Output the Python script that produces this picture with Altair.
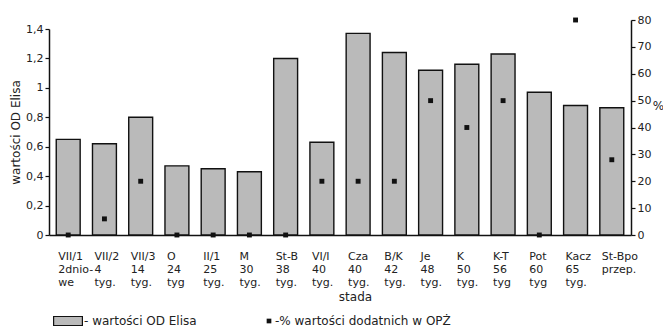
import altair as alt
import pandas as pd

# Category labels (three lines each)
line1 = ["VII/1", "VII/2", "VII/3", "O", "II/1", "M", "St-B", "VI/I", "Cza", "B/K",
         "Je", "K", "K-T", "Pot", "Kacz", "St-Bpo"]
line2 = ["2dnio-", "\u00a04", "\u00a014", "24", "25", "30", "38", "40", "40", "42",
         "48", "50", "56", "60", "65", "przep."]
line3 = ["\u00a0\u00a0we", "tyg.", "tyg.", "tyg", "tyg.", "tyg.", "tyg.", "tyg.", "tyg.", "tyg.",
         "tyg.", "tyg.", "tyg", "tyg", "tyg.", ""]

# OD Elisa values (left axis)
od_values = [0.65, 0.62, 0.80, 0.47, 0.45, 0.43, 1.20, 0.63, 1.37, 1.24,
             1.12, 1.16, 1.23, 0.97, 0.88, 0.865]
# % positive values in OPZ (right axis)
pct_values = [0, 6, 20, 0, 0, 0, 0, 20, 20, 20, 50, 40, 50, 0, 80, 28]

left_ticks = [0, 0.2, 0.4, 0.6, 0.8, 1.0, 1.2, 1.4]
right_ticks = [0, 10, 20, 30, 40, 50, 60, 70, 80]

labels = ["|".join([a, b] + ([c] if c else [])) for a, b, c in zip(line1, line2, line3)]

df = pd.DataFrame({
    "stado": labels,
    "od": od_values,
    "pct": pct_values,
    "lg1": "- wartości OD Elisa",
    "lg2": "-% wartości dodatnich w OPŻ",
})

FONT = "DejaVu Sans"
TXT = "#222222"
INK = "#111111"

x_enc = alt.X(
    "stado:N", sort=None,
    scale=alt.Scale(paddingInner=0.34, paddingOuter=0.2),
    axis=alt.Axis(
        title="stada", labelAngle=0, labelAlign="left", labelBaseline="top",
        labelOffset=-10, labelPadding=15, labelLineHeight=13,
        labelExpr="split(datum.label, '|')", ticks=False, labelOverlap=False,
        labelLimit=0, domainColor=INK, domainWidth=1.5,
        labelFont=FONT, labelFontSize=11, labelColor=TXT,
        titleFont=FONT, titleFontSize=12, titleFontWeight="normal", titleColor=TXT,
        titleX=306, titleY=56, titleBaseline="top", titleAlign="center",
    ),
)

bars = alt.Chart(df).mark_bar(stroke=INK, strokeWidth=1.4).encode(
    x=x_enc,
    y=alt.Y(
        "od:Q",
        scale=alt.Scale(domain=[0, 1.4], range=[215, 9], nice=False),
        axis=alt.Axis(
            title="wartości OD Elisa", values=left_ticks,
            labelExpr="replace(format(datum.value, '.1~f'), '.', ',')",
            tickSize=4, tickColor=INK, tickWidth=1.2, domainColor=INK, domainWidth=1.5,
            labelPadding=2, labelFont=FONT, labelFontSize=11, labelColor=TXT,
            titleFont=FONT, titleFontSize=12, titleFontWeight="normal", titleColor=TXT,
            titlePadding=3, grid=False,
        ),
    ),
    fill=alt.Fill(
        "lg1:N", scale=alt.Scale(range=["#bababa"]),
        legend=alt.Legend(
            title=None, orient="none", legendX=9, legendY=291, padding=0,
            symbolType="M-1.6,-0.5H1.6V0.5H-1.6Z", symbolSize=324,
            symbolStrokeColor=INK, symbolStrokeWidth=1.2, labelLimit=0,
            labelFont=FONT, labelFontSize=12, labelColor=TXT, labelOffset=6,
        ),
    ),
)

pts = alt.Chart(df).mark_point(filled=True, size=24, opacity=1).encode(
    x=alt.X("stado:N", sort=None),
    y=alt.Y(
        "pct:Q",
        scale=alt.Scale(domain=[0, 80], nice=False),
        axis=alt.Axis(
            orient="right", title="%", values=right_ticks,
            tickSize=4, tickColor=INK, tickWidth=1.2, domainColor=INK, domainWidth=1.5,
            labelPadding=2, labelFont=FONT, labelFontSize=11, labelColor=TXT,
            titleFont=FONT, titleFontSize=12, titleFontWeight="normal", titleColor=TXT,
            titleAngle=0, titleX=27, titleY=85, titleAlign="center",
            titleBaseline="middle", grid=False,
        ),
    ),
    shape=alt.Shape(
        "lg2:N", scale=alt.Scale(range=["square"]),
        legend=alt.Legend(
            title=None, orient="none", legendX=214, legendY=295, padding=0,
            symbolFillColor=INK, symbolStrokeColor=INK, symbolSize=22, labelLimit=0,
            labelFont=FONT, labelFontSize=12, labelColor=TXT, labelOffset=0,
        ),
    ),
    color=alt.value(INK),
)

chart = alt.layer(bars, pts).resolve_scale(y="independent").properties(
    width=582, height=215,
    autosize=alt.AutoSizeParams(type="none"),
    padding={"left": 41, "top": 12, "right": 32, "bottom": 93},
    background="white",
).configure_view(stroke=None)

chart.save("out.html", embed_options={"renderer": "svg", "actions": False})
